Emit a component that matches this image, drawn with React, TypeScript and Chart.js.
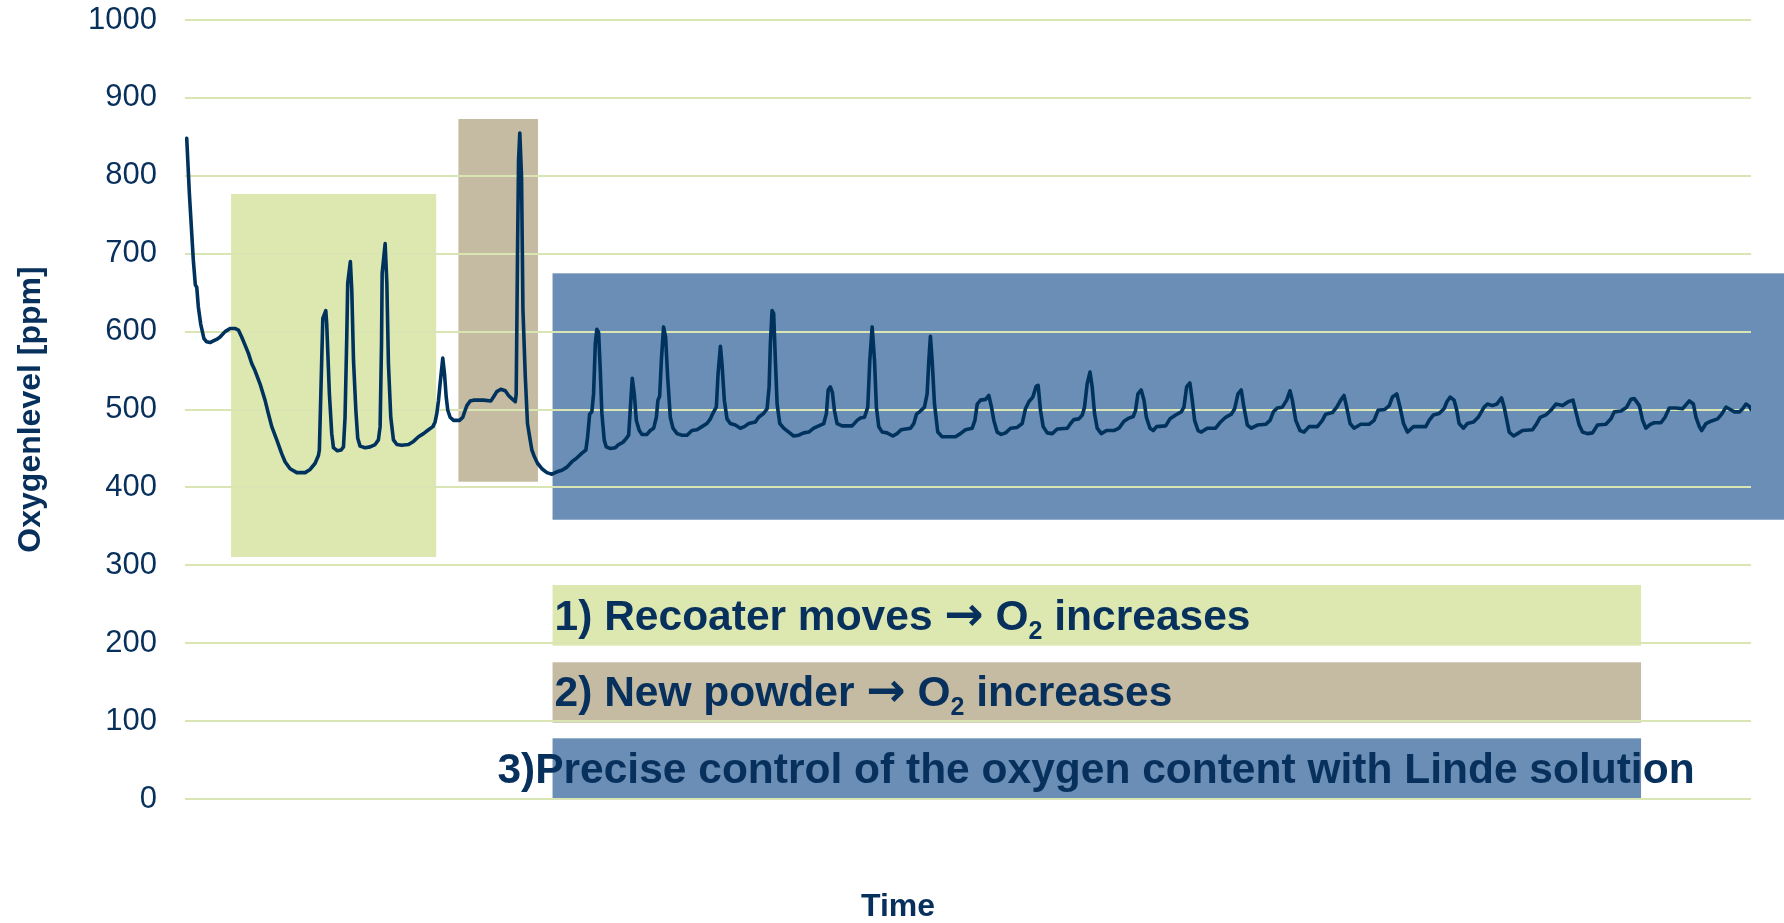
import React, { useEffect, useRef } from 'react';
import { Chart, registerables } from 'chart.js';

Chart.register(...registerables);

// ---- data (time in arbitrary units 0..1000, oxygen in ppm) ----
const timeValues = [
  1.1, 2.8, 4.3, 5.3, 6.6, 7.5, 8.5, 10.0, 12.1, 13.8, 16.0, 18.1, 20.2, 22.4, 25.6, 28.8, 31.9, 34.1, 36.2, 38.3,
  40.5, 42.6, 44.7, 47.9, 51.1, 53.2, 55.4, 58.6, 61.8, 63.9, 67.1, 71.4, 76.7, 79.9, 83.1, 85.2, 85.8, 88.0, 89.9, 90.5,
  92.2, 93.7, 94.8, 97.3, 99.7, 101.2, 102.2, 103.3, 103.9, 105.6, 106.5, 107.6, 109.1, 110.3, 111.8, 115.0, 118.2, 121.4, 123.5, 124.6,
  125.5, 125.9, 127.8, 128.9, 129.9, 131.4, 133.1, 135.3, 138.4, 142.7, 145.9, 149.1, 152.3, 155.5, 158.3, 159.7, 160.8, 161.9, 162.9, 164.6,
  165.7, 166.8, 167.8, 169.3, 171.5, 175.3, 177.4, 178.9, 180.0, 182.1, 184.2, 190.6, 195.3, 197.0, 199.1, 201.7, 204.5, 206.6, 208.7, 210.9,
  211.5, 212.4, 213.0, 213.8, 214.9, 215.8, 217.3, 218.7, 220.4, 221.5, 223.2, 225.1, 227.9, 231.1, 234.3,
  237.5, 240.7, 243.9, 247.1, 250.3, 253.5, 256.0, 257.1, 258.4, 259.8, 260.9, 262.0, 263.0, 264.1, 265.2, 266.2, 267.7, 269.0, 271.6, 274.8,
  276.9, 279.7, 281.8, 283.3, 284.3, 285.6, 286.9, 288.2, 290.1, 291.8, 295.0, 297.1, 299.3, 301.0, 302.0, 303.1, 304.2, 305.6, 306.9, 308.2,
  309.9, 311.6, 314.2, 317.4, 320.6, 323.7, 326.9, 330.1, 333.3, 335.5, 337.6, 339.3, 340.4, 341.9, 342.9, 344.4, 346.1, 348.2, 351.4, 354.6,
  357.2, 360.0, 364.2, 366.3, 369.5, 371.7, 373.0, 373.8, 374.9, 375.9, 377.0, 378.1, 379.8, 382.3, 385.5, 388.7, 391.9, 395.1, 398.3, 401.5,
  404.7, 407.9, 409.6, 410.7, 412.1, 413.4, 414.7, 416.4, 419.6, 426.0, 429.2, 431.3,
  433.9, 436.0, 437.3, 438.8, 440.3, 441.5, 443.0, 445.2, 448.3, 452.0, 454.7, 457.3, 463.3, 465.4, 467.1, 469.6, 472.2, 473.9, 475.0, 476.0,
  477.1, 478.6, 480.7, 483.5, 492.0, 495.2, 498.4, 502.7, 504.4, 505.9, 508.0, 511.2, 513.3, 515.0, 516.5, 518.6, 521.2, 524.0, 527.2, 531.4,
  534.6, 536.7, 538.9, 541.4, 543.6, 544.8, 546.3, 548.0, 550.6, 553.8, 557.0, 563.4, 565.5, 567.6, 570.8, 573.0, 574.4, 576.1, 577.9, 579.3,
  580.8, 582.5, 585.1, 588.5, 593.2, 596.4, 599.6, 602.8, 605.5, 607.0, 608.5, 610.6, 612.4, 613.9, 616.2, 618.3, 620.4, 626.2, 629.0, 632.6,
  636.2,
  637.9, 639.6, 641.7, 643.2, 644.7, 646.9, 649.0, 652.8, 658.1, 661.3, 664.5, 668.2, 670.3, 672.4, 674.5, 676.2, 678.4, 681.0, 684.8, 690.1,
  692.9, 695.0, 697.5, 700.7, 703.5, 705.6, 707.1, 709.3, 712.0, 714.6, 717.8, 723.1, 726.3, 728.4, 732.7, 735.5, 738.0, 740.1, 741.8, 744.0,
  746.5, 750.8, 756.1, 759.3, 761.9, 766.1, 769.0, 771.0, 773.8, 775.9, 778.1, 780.6, 784.5, 792.3, 794.5, 797.2, 800.9, 804.0, 805.8, 807.9,
  810.4, 812.1, 813.6, 816.4, 818.9, 822.8, 825.8,
  829.6, 831.7, 834.9, 837.7, 840.7, 842.4, 844.1, 845.6, 848.4, 850.9, 854.1, 860.5, 862.6, 865.4, 869.0, 872.2, 875.4, 879.7, 883.3, 886.3,
  888.2, 890.3, 892.4, 895.6, 898.8, 902.0, 907.3, 910.6, 912.7, 917.0, 920.6, 923.3, 925.5, 928.7, 930.8, 932.9, 935.7, 938.2, 942.5, 945.1,
  947.8, 952.1, 956.3, 960.6, 963.2, 964.9, 967.0, 968.5, 971.3, 974.4, 978.7, 981.3, 984.0, 986.8, 989.4, 992.7, 994.7, 996.8, 999.0, 1000.0,
];

const oxygenValues = [
  848, 777, 726, 692, 660, 657, 632, 610, 591, 587, 586, 588, 590, 593, 600, 604, 604, 602, 593, 583,
  572, 559, 550, 533, 512, 495, 478, 461, 443, 433, 424, 419, 419, 423, 431, 441, 448, 617, 627, 610,
  520, 469, 451, 447, 448, 452, 490, 593, 662, 690, 653, 563, 499, 463, 453, 451, 452, 455, 461, 478,
  585, 675, 713, 662, 559, 490, 461, 455, 454, 455, 459, 465, 469, 474, 478, 484, 495, 512, 533, 566,
  546, 516, 499, 490, 486, 486, 490, 499, 505, 511, 512, 512, 511, 516, 523, 526, 524, 518, 514, 510,
  520, 713, 820, 855, 799, 628, 542, 482, 461, 448, 439, 431, 424, 419, 417,
  420, 422, 426, 433, 438, 444, 448, 465, 494, 497, 520, 584, 603, 599, 550, 495, 461, 452, 450, 451,
  455, 458, 463, 467, 499, 540, 520, 486, 473, 468, 468, 473, 476, 490, 512, 517, 563, 606, 593, 542,
  490, 476, 469, 467, 467, 473, 474, 478, 482, 488, 497, 503, 546, 581, 559, 512, 488, 482, 480, 476,
  478, 482, 484, 490, 495, 501, 529, 584, 627, 623, 563, 507, 482, 476, 471, 466, 467, 470, 471, 476,
  479, 482, 495, 525, 529, 522, 499, 482, 479, 479, 486, 489,
  490, 503, 563, 606, 563, 503, 478, 471, 470, 466, 469, 474, 476, 482, 494, 498, 503, 520, 563, 594,
  563, 507, 471, 465, 465, 469, 474, 476, 486, 507, 512, 513, 518, 503, 486, 471, 468, 470, 476, 477,
  482, 501, 510, 516, 530, 531, 499, 478, 470, 469, 475, 476, 482, 487, 488, 493, 503, 533, 548, 529,
  495, 476, 469, 473, 473, 476, 485, 489, 491, 499, 520, 525, 512, 490, 476, 473, 478, 479, 488, 493,
  497,
  503, 529, 534, 512, 486, 473, 471, 476, 476, 484, 490, 494, 501, 520, 525, 503, 480, 476, 480, 481,
  486, 497, 502, 503, 512, 524, 512, 486, 473, 471, 478, 478, 486, 494, 496, 503, 512, 518, 503, 482,
  476, 481, 481, 486, 499, 500, 505, 516, 520, 503, 482, 471, 478, 478, 486, 493, 495, 501, 510, 516,
  512, 499, 482, 476, 482, 484, 490,
  503, 507, 505, 507, 515, 503, 486, 471, 466, 469, 473, 474, 480, 490, 493, 499, 507, 505, 510, 512,
  497, 480, 471, 469, 470, 480, 481, 488, 497, 498, 503, 513, 514, 505, 486, 476, 481, 483, 483, 490,
  502, 502, 501, 511, 507, 490, 478, 473, 482, 485, 488, 494, 503, 500, 497, 497, 501, 507, 504, 500,
];

const yTickValues = [0, 100, 200, 300, 400, 500, 600, 700, 800, 900, 1000];
const yAxisTitle = 'Oxygenlevel [ppm]';
const xAxisTitle = 'Time';

// ---- styling / annotation layout (not data) ----
const NAVY = '#08305C';
const LINE = '#00325E';
const GRID = 'rgb(217,229,178)';
const GREEN = 'rgb(221,232,176)';
const TAN = 'rgb(196,187,162)';
const BLUE = 'rgb(106,142,181)';
const FONT = '"Liberation Sans", Arial, Helvetica, sans-serif';
const ARROW_FONT = '"DejaVu Sans", "Liberation Sans", sans-serif';

const regionBoxes = [
  { x0: 29.4, x1: 160.4, yTop: 776.6, yBottom: 310.7, color: GREEN },
  { x0: 174.6, x1: 225.4, yTop: 872.9, yBottom: 407.3, color: TAN },
  { x0: 234.7, x1: 1100, yTop: 674.8, yBottom: 358.5, color: BLUE },
  { x0: 234.7, x1: 929.8, yTop: 274.7, yBottom: 196.8, color: GREEN },
  { x0: 234.7, x1: 929.8, yTop: 175.5, yBottom: 97.9, color: TAN },
  { x0: 234.7, x1: 929.8, yTop: 77.9, yBottom: 0.9, color: BLUE },
];

const noteTexts = [
  {
    x: 236,
    baseline: 217,
    parts: [{ t: '1) Recoater moves ' }, { t: '→', arrow: true }, { t: ' O' }, { t: '2', sub: true }, { t: ' increases' }],
  },
  {
    x: 236,
    baseline: 119,
    parts: [{ t: '2) New powder ' }, { t: '→', arrow: true }, { t: ' O' }, { t: '2', sub: true }, { t: ' increases' }],
  },
  { x: 199.5, baseline: 20.5, parts: [{ t: '3)Precise control of the oxygen content with Linde solution' }] },
];

const annotationPlugin = {
  id: 'oxyAnnotations',
  beforeDraw(chart: any) {
    const { ctx, scales } = chart;
    const xs = scales.x;
    const ys = scales.y;
    ctx.save();
    for (const r of regionBoxes) {
      const px0 = xs.getPixelForValue(r.x0);
      const px1 = xs.getPixelForValue(r.x1);
      const py0 = ys.getPixelForValue(r.yTop);
      const py1 = ys.getPixelForValue(r.yBottom);
      ctx.fillStyle = r.color;
      ctx.fillRect(px0, py0, px1 - px0, py1 - py0);
    }
    ctx.restore();
  },
  afterDraw(chart: any) {
    const { ctx, scales } = chart;
    const xs = scales.x;
    const ys = scales.y;
    ctx.save();
    ctx.fillStyle = NAVY;
    ctx.textAlign = 'left';
    ctx.textBaseline = 'alphabetic';
    for (const n of noteTexts) {
      let px = xs.getPixelForValue(n.x);
      const py = ys.getPixelForValue(n.baseline);
      for (const p of n.parts as any[]) {
        if (p.sub) {
          ctx.font = `bold 25px ${FONT}`;
          ctx.fillText(p.t, px, py + 9);
        } else if (p.arrow) {
          ctx.font = `bold 47px ${ARROW_FONT}`;
          ctx.fillText(p.t, px, py);
        } else {
          ctx.font = `bold 42.5px ${FONT}`;
          ctx.fillText(p.t, px, py);
        }
        px += ctx.measureText(p.t).width;
      }
    }
    ctx.restore();
  },
};

export default function App() {
  const canvasRef = useRef<HTMLCanvasElement | null>(null);

  useEffect(() => {
    if (!canvasRef.current) return;
    const points = timeValues.map((t, i) => ({ x: t, y: oxygenValues[i] }));
    const chart = new Chart(canvasRef.current, {
      type: 'line',
      data: {
        datasets: [
          {
            label: 'Oxygen',
            data: points,
            borderColor: LINE,
            borderWidth: 3.6,
            pointRadius: 0,
            tension: 0,
            borderJoinStyle: 'round',
            borderCapStyle: 'round',
            fill: false,
          },
        ],
      },
      options: {
        animation: false,
        responsive: false,
        parsing: false as any,
        layout: { padding: { top: 20, left: 12, right: 0, bottom: 0 } },
        plugins: {
          legend: { display: false },
          tooltip: { enabled: false },
          title: {
            display: true,
            position: 'bottom',
            text: xAxisTitle,
            color: NAVY,
            font: { family: FONT, size: 32, weight: 'bold', lineHeight: 1 },
            padding: { top: 0, bottom: 0 },
          },
        },
        scales: {
          x: {
            type: 'linear',
            min: 0,
            max: 1000,
            grid: { display: false },
            border: { display: false },
            ticks: { display: false },
            afterFit: (s: any) => {
              s.height = 92;
            },
          },
          y: {
            type: 'linear',
            position: 'left',
            min: 0,
            max: 1000,
            afterBuildTicks: (s: any) => {
              s.ticks = yTickValues.map((v) => ({ value: v }));
            },
            ticks: {
              padding: 28,
              color: NAVY,
              font: { family: FONT, size: 31 },
              callback: (v: any) => String(v),
            },
            grid: { color: GRID, lineWidth: 2, drawTicks: false },
            border: { display: false },
            title: {
              display: true,
              text: yAxisTitle,
              color: NAVY,
              font: { family: FONT, size: 32, weight: 'bold' },
              padding: { top: 0, bottom: 0 },
            },
            afterFit: (s: any) => {
              s.width = 173;
              s.paddingTop = 0;
              s.paddingBottom = 0;
            },
          },
          yR: {
            type: 'linear',
            position: 'right',
            display: true,
            grid: { display: false },
            border: { display: false },
            ticks: { display: false },
            afterFit: (s: any) => {
              s.width = 33;
              s.paddingTop = 0;
              s.paddingBottom = 0;
            },
          },
        },
      },
      plugins: [annotationPlugin],
    } as any);
    return () => chart.destroy();
  }, []);

  return (
    <div style={{ position: 'fixed', left: 0, top: 0, width: 1784, height: 923, background: '#fff' }}>
      <canvas ref={canvasRef} width={1784} height={923} style={{ display: 'block' }} />
    </div>
  );
}
